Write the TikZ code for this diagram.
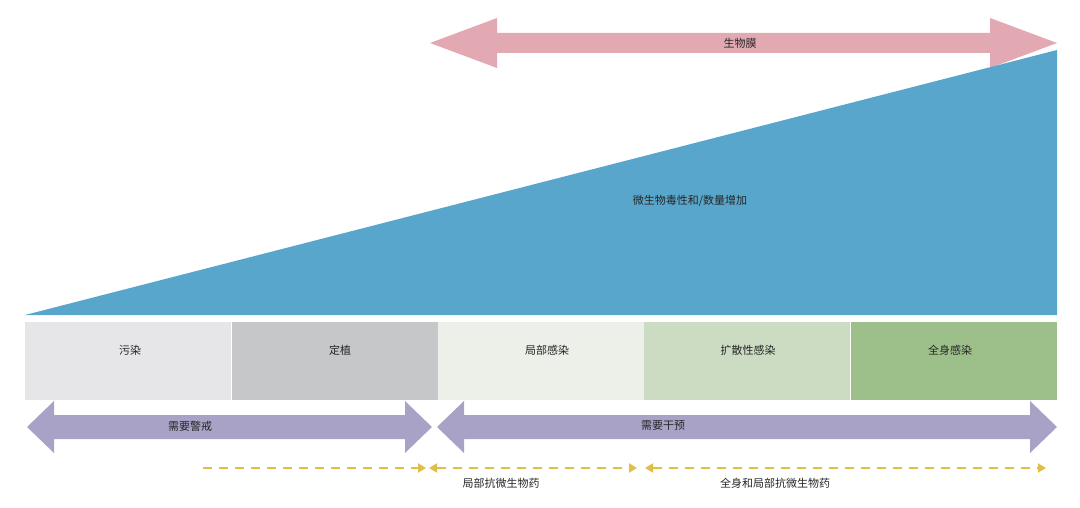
\documentclass[tikz,border=0pt]{standalone}
\usepackage{fontspec}
\newfontfamily\cjk{Noto Sans CJK SC}
\usetikzlibrary{arrows.meta}
\definecolor{pinkA}{HTML}{E3A9B3}
\definecolor{blueA}{HTML}{59A6CC}
\definecolor{purA}{HTML}{A8A2C7}
\definecolor{yelA}{HTML}{E0BE4A}
\definecolor{b1}{HTML}{E6E6E9}
\definecolor{b2}{HTML}{C6C7C9}
\definecolor{b3}{HTML}{ECF0E8}
\definecolor{b4}{HTML}{CCDCC2}
\definecolor{b5}{HTML}{9DBF8A}
\newcommand{\dblarrow}[7]{% x1 x2 yc headlen halfshaft halfhead color
  \fill[#7] (#1,#3) -- (#1+#4,#3-#6) -- (#1+#4,#3-#5) -- (#2-#4,#3-#5) -- (#2-#4,#3-#6) -- (#2,#3)
  -- (#2-#4,#3+#6) -- (#2-#4,#3+#5) -- (#1+#4,#3+#5) -- (#1+#4,#3+#6) -- cycle;}
\tikzset{lbl/.style={font=\cjk\fontsize{11}{13}\selectfont, text=black!85},
  stage/.style={minimum width=206pt, minimum height=78pt, inner sep=0pt, anchor=north west},
  dasharrow/.style={yelA, line width=2pt, dash pattern=on 9pt off 7pt, -{Triangle[length=8pt,width=9pt]}}}
\begin{document}
\begin{tikzpicture}[x=1pt,y=-1pt]
\useasboundingbox (0,0) rectangle (1080,508);
\dblarrow{430}{1057}{43}{67}{10}{25}{pinkA}
\node[lbl] (bio) at (740,43) {生物膜};
\fill[blueA] (25,315) -- (1057,315) -- (1057,50) -- cycle;
\node[lbl] (vir) at (690,201) {微生物毒性和/数量增加};
\node[stage, fill=b1] (s1) at (25,322) {};
\node[stage, fill=b2] (s2) at (232,322) {};
\node[stage, fill=b3] (s3) at (438,322) {};
\node[stage, fill=b4] (s4) at (644,322) {};
\node[stage, fill=b5] (s5) at (851,322) {};
\node[lbl] at (130,350) {污染};
\node[lbl] at (340,350) {定植};
\node[lbl] at (547,350) {局部感染};
\node[lbl] at (748,350) {扩散性感染};
\node[lbl] at (950,350) {全身感染};
\dblarrow{27}{432}{427}{27}{12}{26}{purA}
\dblarrow{437}{1057}{427}{27}{12}{26}{purA}
\node[lbl] (w) at (190,426) {需要警戒};
\node[lbl] (iv) at (663,426) {需要干预};
\coordinate (d1) at (203,468); \coordinate (d2) at (426,468);
\coordinate (d3) at (429,468); \coordinate (d4) at (637,468);
\coordinate (d5) at (645,468); \coordinate (d6) at (1046,468);
\draw[dasharrow] (d1) -- (d2);
\draw[dasharrow, {Triangle[length=8pt,width=9pt]}-{Triangle[length=8pt,width=9pt]}] (d3) -- (d4);
\draw[dasharrow, {Triangle[length=8pt,width=9pt]}-{Triangle[length=8pt,width=9pt]}] (d5) -- (d6);
\node[lbl] (t1) at (501,483) {局部抗微生物药};
\node[lbl] (t2) at (775,483) {全身和局部抗微生物药};
\end{tikzpicture}
\end{document}
